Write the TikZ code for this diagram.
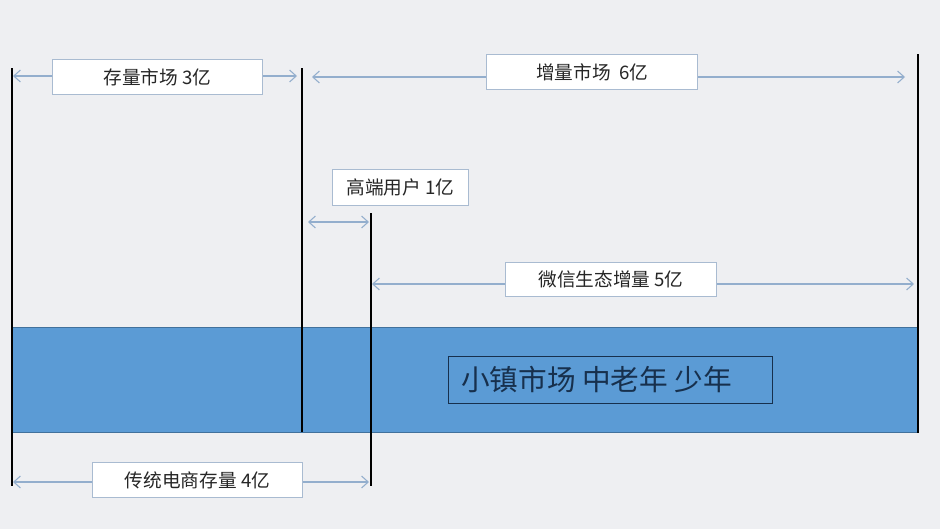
\documentclass[tikz,border=0pt]{standalone}
\usepackage{fontspec}
\setmainfont{Noto Sans CJK SC}
\usetikzlibrary{arrows.meta}
\definecolor{bg}{HTML}{EEEFF2}
\definecolor{arrc}{HTML}{93AECD}
\definecolor{boxc}{HTML}{A9BBD1}
\definecolor{barfill}{HTML}{5B9BD5}
\definecolor{barline}{HTML}{41719C}
\definecolor{navy}{HTML}{17304D}
\definecolor{txt}{HTML}{262626}
\tikzset{
  vline/.style={black, line width=0.85pt},
  arr/.style={arrc, line width=0.8pt, -{Straight Barb[length=5pt,width=9pt]}},
  darr/.style={arrc, line width=0.8pt, {Straight Barb[length=5pt,width=9pt]}-{Straight Barb[length=5pt,width=9pt]}},
  lbl/.style={draw=boxc, fill=white, line width=0.8pt, text=txt, font=\fontsize{14}{16}\selectfont, inner sep=0pt, anchor=north west},
}
\begin{document}
\begin{tikzpicture}[x=0.75pt,y=-0.75pt]
\fill[bg] (0,0) rectangle (940,529);
\useasboundingbox (0,0) rectangle (940,529);
% blue bar
\node[draw=barline, fill=barfill, line width=0.8pt, minimum width=906*0.75pt, minimum height=105*0.75pt, inner sep=0pt, anchor=north west] (bar) at (12,327) {};
\node[draw=navy, line width=0.8pt, minimum width=324*0.75pt, minimum height=47*0.75pt, inner sep=0pt, anchor=north west] (town) at (448,356) {};
\node[text=navy, font=\fontsize{21.5}{24}\selectfont, anchor=west, inner sep=0pt] (towntxt) at (461,379.5) {小镇市场 中老年 少年};
% vertical lines
\coordinate (v1t) at (12,68);   \coordinate (v1b) at (12,486);
\coordinate (v2t) at (302,68);  \coordinate (v2b) at (302,432);
\coordinate (v3t) at (371,213); \coordinate (v3b) at (371,486);
\coordinate (v4t) at (918,54);  \coordinate (v4b) at (918,433);
\draw[vline] (v1t) -- (v1b);
\draw[vline] (v2t) -- (v2b);
\draw[vline] (v3t) -- (v3b);
\draw[vline] (v4t) -- (v4b);
% labels
\node[lbl, minimum width=210*0.75pt, minimum height=35*0.75pt] (l1) at (52,59) {存量市场 3亿};
\node[lbl, minimum width=211*0.75pt, minimum height=35*0.75pt] (l2) at (486,54) {增量市场\ \ 6亿};
\node[lbl, minimum width=136*0.75pt, minimum height=36*0.75pt] (l3) at (332,169) {高端用户 1亿};
\node[lbl, minimum width=211*0.75pt, minimum height=34*0.75pt] (l4) at (505,262) {微信生态增量 5亿};
\node[lbl, minimum width=210*0.75pt, minimum height=35*0.75pt] (l5) at (92,462) {传统电商存量 4亿};
% arrow end points
\coordinate (a1l) at (13,76);  \coordinate (a1r) at (297,76);
\coordinate (a2l) at (312,77); \coordinate (a2r) at (905,77);
\coordinate (a3l) at (308,222); \coordinate (a3r) at (369,222);
\coordinate (a4l) at (372,284); \coordinate (a4r) at (914,284);
\coordinate (a5l) at (13,482); \coordinate (a5r) at (369,482);
% arrows
\draw[arr] (l1.west |- a1l) -- (a1l);
\draw[arr] (l1.east |- a1r) -- (a1r);
\draw[arr] (l2.west |- a2l) -- (a2l);
\draw[arr] (l2.east |- a2r) -- (a2r);
\draw[darr] (a3l) -- (a3r);
\draw[arr] (l4.west |- a4l) -- (a4l);
\draw[arr] (l4.east |- a4r) -- (a4r);
\draw[arr] (l5.west |- a5l) -- (a5l);
\draw[arr] (l5.east |- a5r) -- (a5r);
\end{tikzpicture}
\end{document}
